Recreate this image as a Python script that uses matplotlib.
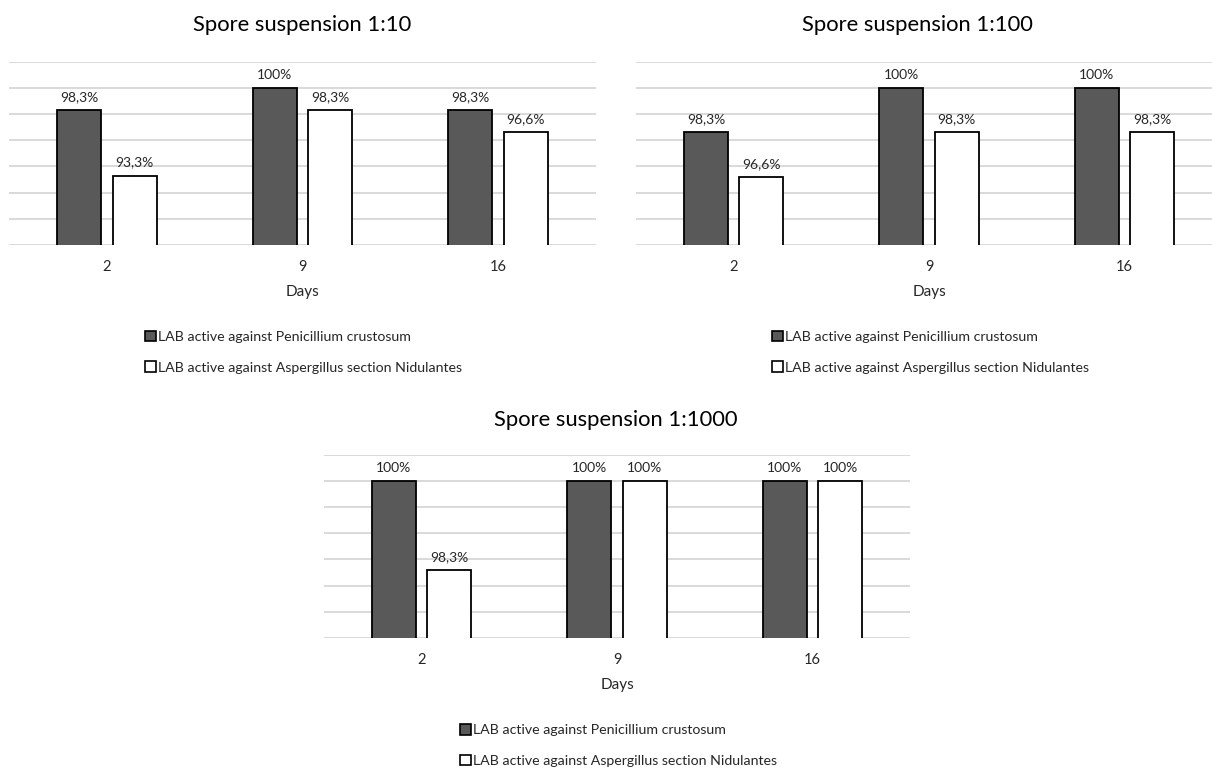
import matplotlib
matplotlib.use("Agg")
import matplotlib.pyplot as plt
from matplotlib.patches import Patch

W, H = 1212, 769
plt.rcParams['font.family'] = ['Lato', 'DejaVu Sans']

days = ['2', '9', '16']
series_names = ['LAB active against Penicillium crustosum',
                'LAB active against Aspergillus section Nidulantes']
titles = ['Spore suspension 1:10', 'Spore suspension 1:100', 'Spore suspension 1:1000']

pen_10 = [98.3, 100.0, 98.3]
asp_10 = [93.3, 98.3, 96.6]
pen_100 = [98.3, 100.0, 100.0]
asp_100 = [96.6, 98.3, 98.3]
pen_1000 = [100.0, 100.0, 100.0]
asp_1000 = [98.3, 100.0, 100.0]

# y scales (min, max, step) as in the original charts
scales = [(88, 102, 2), (94, 101, 1), (97, 100.5, 0.5)]

# panel geometry in pixels: left, right, top, bottom
boxes = [(9, 596, 62, 244.7), (636, 1222, 62, 244.7), (324, 910, 454.7, 638)]
title_pos = [(302, 25), (917, 25), (616, 420)]

data = [(pen_10, asp_10), (pen_100, asp_100), (pen_1000, asp_1000)]

DARK = '#595959'
GRID = '#d9d9d9'
TXT = '#262626'

fig = plt.figure(figsize=(W / 100, H / 100), dpi=100)


def fmt(v):
    if abs(v - round(v)) < 1e-9:
        return f"{int(round(v))}%"
    return f"{v:.1f}".replace('.', ',') + '%'


for i in range(3):
    l, r, t, b = boxes[i]
    ax = fig.add_axes([l / W, 1 - b / H, (r - l) / W, (b - t) / H])
    ymin, ymax, step = scales[i]
    pen, asp = data[i]
    x = list(range(len(days)))
    width = 0.225
    off = 0.142
    b1 = ax.bar([xi - off for xi in x], pen, width=width, color=DARK,
                edgecolor='black', linewidth=1.3, zorder=3, label=series_names[0])
    b2 = ax.bar([xi + off for xi in x], asp, width=width, color='white',
                edgecolor='black', linewidth=1.3, zorder=3, label=series_names[1])
    for bars, vals in ((b1, pen), (b2, asp)):
        for rect, v in zip(bars, vals):
            ax.annotate(fmt(v), (rect.get_x() + rect.get_width() / 2, v),
                        xytext=(0, 5), textcoords='offset points',
                        ha='center', va='bottom', fontsize=10, color=TXT)
    ax.set_xlim(-0.5, len(days) - 0.5)
    ax.set_ylim(ymin, ymax)
    n = int(round((ymax - ymin) / step))
    ax.set_yticks([ymin + k * step for k in range(n + 1)])
    ax.set_yticklabels([])
    ax.yaxis.grid(True, color=GRID, linewidth=1.4, zorder=0)
    ax.set_axisbelow(True)
    ax.set_xticks(x)
    ax.set_xticklabels(days, fontsize=10.5, color=TXT)
    ax.tick_params(axis='both', length=0)
    ax.tick_params(axis='x', pad=11)
    for s in ax.spines.values():
        s.set_visible(False)
    ax.patch.set_alpha(0)
    # axis title
    fig.text(((l + r) / 2) / W, 1 - (b + 47) / H, 'Days', ha='center', va='center',
             fontsize=11, color=TXT)
    # chart title
    tx, ty = title_pos[i]
    fig.text(tx / W, 1 - ty / H, titles[i], ha='center', va='center',
             fontsize=15.8, color='black')
    # legend
    handles = [Patch(facecolor=DARK, edgecolor='black', linewidth=1.2),
               Patch(facecolor='white', edgecolor='black', linewidth=1.2)]
    ax.legend(handles, series_names, loc='center left',
              bbox_to_anchor=((l + 136) / W, 1 - (b + 107.5) / H),
              bbox_transform=fig.transFigure, frameon=False, fontsize=10.2,
              handlelength=0.75, handleheight=0.75, handletextpad=0.2,
              labelspacing=1.3, borderpad=0, borderaxespad=0, labelcolor=TXT)

fig.savefig('out.png', dpi=100, facecolor='white')
